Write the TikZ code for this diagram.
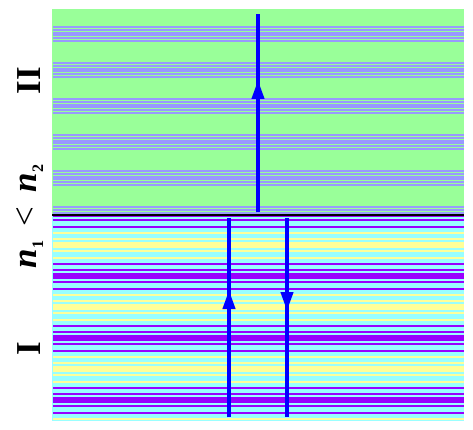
\documentclass[tikz,border=0pt]{standalone}
\usepackage{fontspec}
\setmainfont{Liberation Serif}
\usetikzlibrary{arrows.meta}
\definecolor{grn}{RGB}{153,255,153}
\definecolor{lav}{RGB}{153,153,255}
\definecolor{cyn}{RGB}{153,255,255}
\definecolor{yel}{RGB}{255,255,153}
\definecolor{pur}{RGB}{153,0,255}
\definecolor{ray}{RGB}{0,0,255}
\newcommand{\subx}[1]{\raisebox{-7pt}{\fontsize{16}{16}\selectfont\bfseries #1}}
\begin{document}
\begin{tikzpicture}[x=1pt,y=-1pt,
  lab/.style={font=\fontsize{35}{40}\selectfont\bfseries, inner sep=0pt, rotate=90, anchor=base},
  rayline/.style={draw=ray, line width=4pt},
  raytip/.style={draw=ray, fill=ray, line width=4pt, -{Triangle[width=12pt,length=19pt]}}]
\useasboundingbox (0,0) rectangle (473,430);
% medium II
\fill[grn] (52,9) rectangle (464,214);
\begin{scope}
\clip (52,9) rectangle (464,213.5);
\foreach \s in {26,62,98,134,170,206}{
  \fill[lav] (53,\s) rectangle (464,\s+2);
  \fill[lav] (53,\s+3) rectangle (464,\s+5);
  \fill[lav] (53,\s+6) rectangle (464,\s+10.5);
  \fill[lav] (53,\s+11.5) rectangle (464,\s+13.3);
  \fill[lav] (53,\s+14) rectangle (464,\s+16);
}
\end{scope}
% medium I
\fill[cyn] (52,214) rectangle (464,421);
\begin{scope}
\clip (52,216) rectangle (464,421);
\foreach \c/\col in {214/pur,276/pur,338/pur,400/pur,245/yel,307/yel,369/yel,431/yel}{
  \fill[\col] (53,\c-13.5) rectangle (464,\c-11.5);
  \fill[\col] (53,\c-7) rectangle (464,\c-5);
  \fill[\col] (53,\c-3.2) rectangle (464,\c+3.2);
  \fill[\col] (53,\c+5) rectangle (464,\c+7);
  \fill[\col] (53,\c+11.5) rectangle (464,\c+13.5);
}
\end{scope}
\fill[black] (52,213.5) rectangle (464,216);
% rays
\coordinate (t0) at (258,212);
\coordinate (t1) at (258,14);
\coordinate (tm) at (258,80);
\coordinate (l0) at (229,417);
\coordinate (l1) at (229,218);
\coordinate (lm) at (229,290);
\coordinate (r0) at (287,218);
\coordinate (r1) at (287,417);
\coordinate (rm) at (287,311);
\draw[rayline] (t0) -- (t1);
\draw[raytip] (t0) -- (tm);
\draw[rayline] (l0) -- (l1);
\draw[raytip] (l0) -- (lm);
\draw[rayline] (r0) -- (r1);
\draw[raytip] (r0) -- (rm);
% labels
\node[lab] (lII) at (40,80.5) {II};
\node[lab] (lI) at (40,348.5) {I};
\node[lab] (ln) at (36,216.5) {\textit{n}\kern1pt\subx{1}\hspace{14pt}{\mdseries <}\hspace{14pt}\textit{n}\kern1pt\subx{2}};
\end{tikzpicture}
\end{document}
